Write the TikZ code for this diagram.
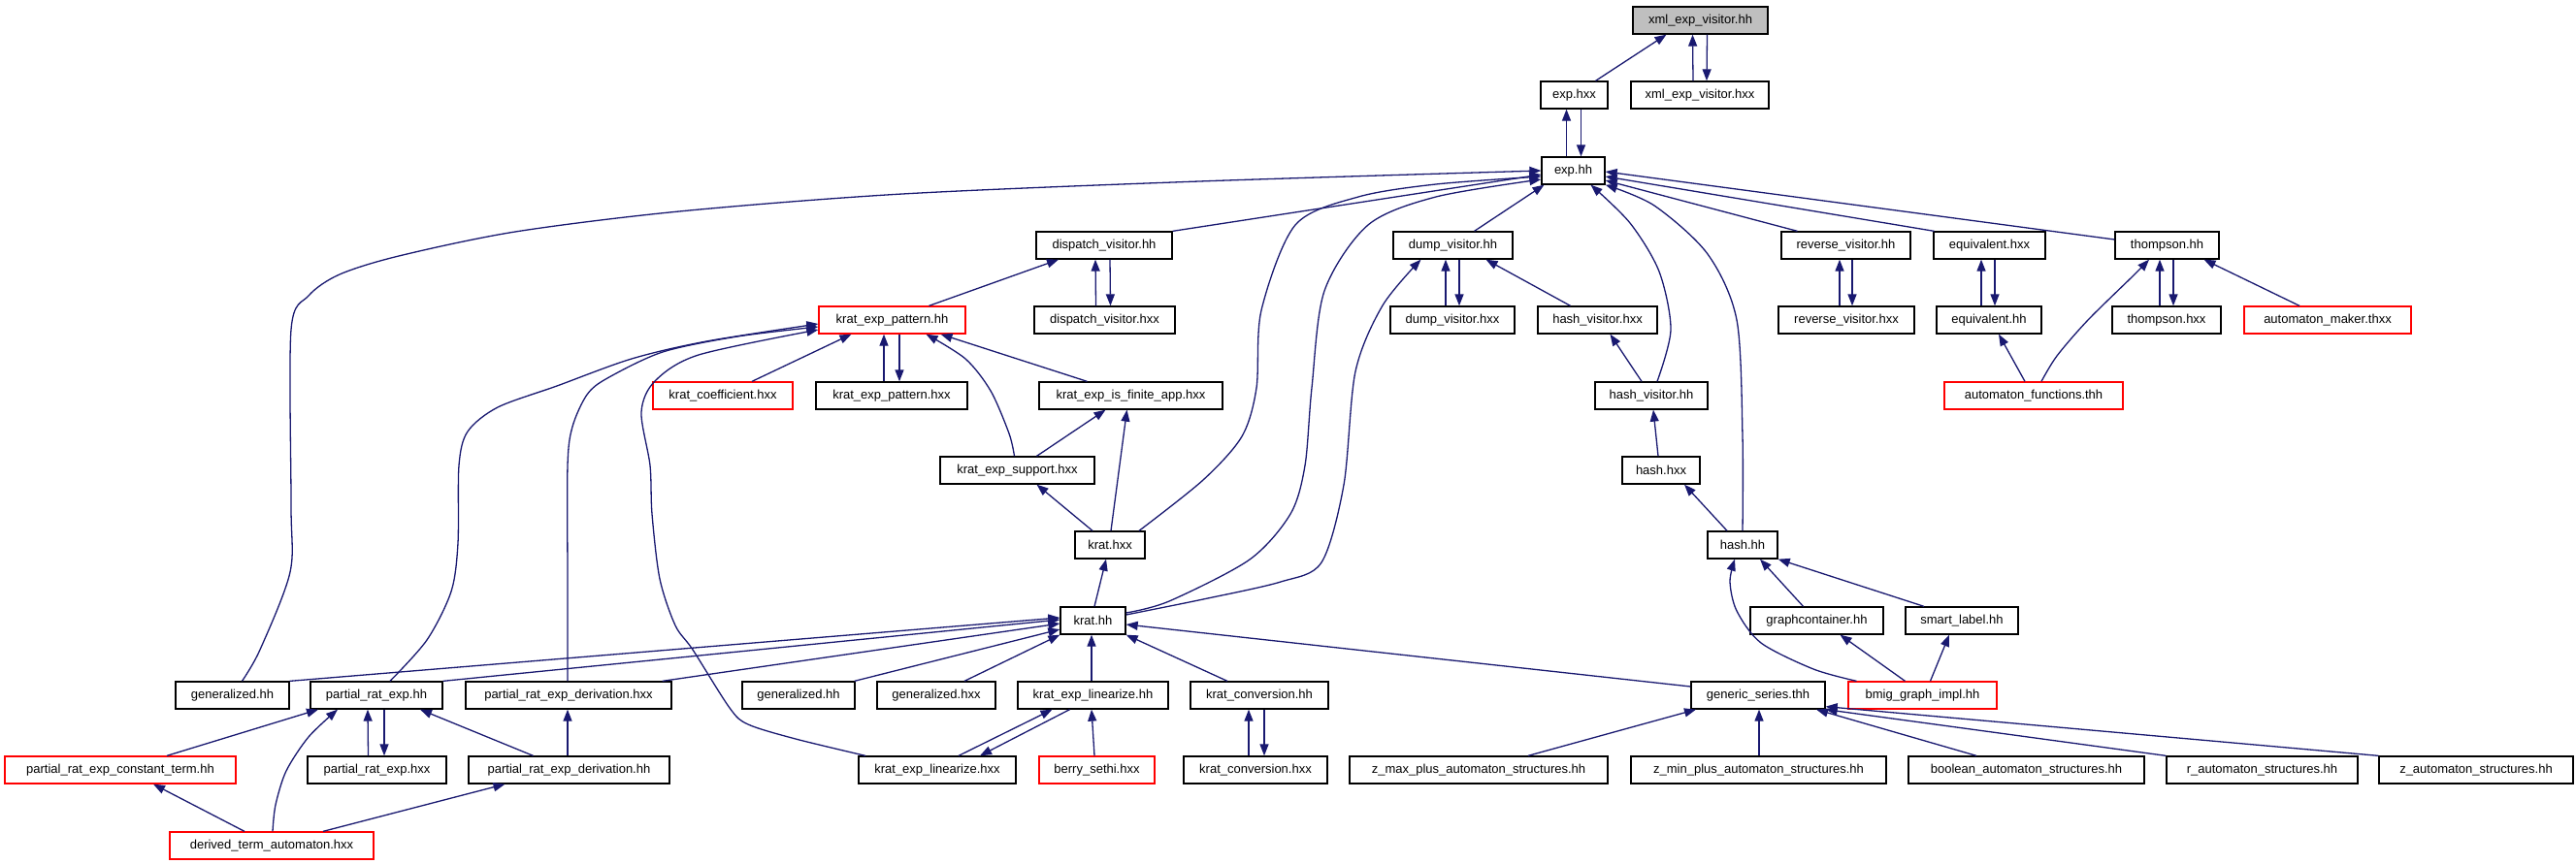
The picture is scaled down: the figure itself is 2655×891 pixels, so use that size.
\documentclass[tikz,border=0pt]{standalone}
\usepackage{fontspec}
\setmainfont{Liberation Sans}
\usepackage{tikz}
\usetikzlibrary{arrows.meta}
\definecolor{edgeblue}{RGB}{25,25,112}
\definecolor{nodegray}{RGB}{191,191,191}
\tikzstyle{filebox}=[draw=black, line width=1.3pt, minimum height=28pt, inner sep=0pt, font=\fontsize{13}{15}\selectfont]
\tikzstyle{fileboxred}=[filebox, draw=red]
\tikzstyle{fileboxgray}=[filebox, fill=nodegray]
\tikzstyle{arrow}=[draw=edgeblue, line width=1.3pt, -{Triangle[length=12pt,width=9pt]}]

\begin{document}
\begin{tikzpicture}[x=1pt, y=-1pt]
		   \useasboundingbox (0,0) rectangle (2655,891);
		   \begin{scope}
			   \node (xmlhh) at (1752.5,21)[fileboxgray, minimum width=139pt] {xml\_exp\_visitor.hh};
			   \node (exphxx) at (1622.5,98)[filebox, minimum width=69pt] {exp.hxx};
			   \node (xmlhxx) at (1752,98)[filebox, minimum width=142pt] {xml\_exp\_visitor.hxx};
			   \node (exphh) at (1621.5,176)[filebox, minimum width=65pt] {exp.hh};
			   \node (dispatchhh) at (1138,253)[filebox, minimum width=140pt] {dispatch\_visitor.hh};
			   \node (dumphh) at (1497.5,253)[filebox, minimum width=123pt] {dump\_visitor.hh};
			   \node (reversehh) at (1902.5,253)[filebox, minimum width=133pt] {reverse\_visitor.hh};
			   \node (equivhxx) at (2050.5,253)[filebox, minimum width=115pt] {equivalent.hxx};
			   \node (thompsonhh) at (2233.5,253)[filebox, minimum width=107pt] {thompson.hh};
			   \node (kpatternhh) at (919.5,330)[fileboxred, minimum width=151pt] {krat\_exp\_pattern.hh};
			   \node (dispatchhxx) at (1138.5,330)[filebox, minimum width=145pt] {dispatch\_visitor.hxx};
			   \node (dumphxx) at (1497,330)[filebox, minimum width=128pt] {dump\_visitor.hxx};
			   \node (hvisitorhxx) at (1646.5,330)[filebox, minimum width=123pt] {hash\_visitor.hxx};
			   \node (reversehxx) at (1903,330)[filebox, minimum width=140pt] {reverse\_visitor.hxx};
			   \node (equivhh) at (2050,330)[filebox, minimum width=108pt] {equivalent.hh};
			   \node (thompsonhxx) at (2233,330)[filebox, minimum width=112pt] {thompson.hxx};
			   \node (makerthxx) at (2399,330)[fileboxred, minimum width=172pt] {automaton\_maker.thxx};
			   \node (kcoeffhxx) at (745,408)[fileboxred, minimum width=144pt] {krat\_coefficient.hxx};
			   \node (kpatternhxx) at (919,408)[filebox, minimum width=156pt] {krat\_exp\_pattern.hxx};
			   \node (kfinitehxx) at (1165.5,408)[filebox, minimum width=189pt] {krat\_exp\_is\_finite\_app.hxx};
			   \node (hvisitorhh) at (1702,408)[filebox, minimum width=116pt] {hash\_visitor.hh};
			   \node (functionsthh) at (2096,408)[fileboxred, minimum width=184pt] {automaton\_functions.thh};
			   \node (ksupporthxx) at (1048.5,485)[filebox, minimum width=159pt] {krat\_exp\_support.hxx};
			   \node (hashhxx) at (1712,485)[filebox, minimum width=80pt] {hash.hxx};
			   \node (krathxx) at (1144,562)[filebox, minimum width=72pt] {krat.hxx};
			   \node (hashhh) at (1796,562)[filebox, minimum width=72pt] {hash.hh};
			   \node (krathh) at (1126.5,640)[filebox, minimum width=67pt] {krat.hh};
			   \node (graphhh) at (1872.5,640)[filebox, minimum width=137pt] {graphcontainer.hh};
			   \node (smarthh) at (2022,640)[filebox, minimum width=116pt] {smart\_label.hh};
			   \node (generalhhA) at (239.5,717)[filebox, minimum width=117pt] {generalized.hh};
			   \node (prehh) at (388,717)[filebox, minimum width=136pt] {partial\_rat\_exp.hh};
			   \node (prederivhxx) at (586,717)[filebox, minimum width=212pt] {partial\_rat\_exp\_derivation.hxx};
			   \node (generalhhB) at (823,717)[filebox, minimum width=116pt] {generalized.hh};
			   \node (generalhxx) at (965,717)[filebox, minimum width=122pt] {generalized.hxx};
			   \node (klinearhh) at (1126.5,717)[filebox, minimum width=155pt] {krat\_exp\_linearize.hh};
			   \node (kconvhh) at (1298,717)[filebox, minimum width=142pt] {krat\_conversion.hh};
			   \node (seriesthh) at (1812,717)[filebox, minimum width=138pt] {generic\_series.thh};
			   \node (bmighh) at (1981.5,717)[fileboxred, minimum width=153pt] {bmig\_graph\_impl.hh};
			   \node (preconsthh) at (124,794)[fileboxred, minimum width=238pt] {partial\_rat\_exp\_constant\_term.hh};
			   \node (prehxx) at (388.5,794)[filebox, minimum width=143pt] {partial\_rat\_exp.hxx};
			   \node (prederivhh) at (586.5,794)[filebox, minimum width=207pt] {partial\_rat\_exp\_derivation.hh};
			   \node (klinearhxx) at (966,794)[filebox, minimum width=162pt] {krat\_exp\_linearize.hxx};
			   \node (berryhxx) at (1130.5,794)[fileboxred, minimum width=119pt] {berry\_sethi.hxx};
			   \node (kconvhxx) at (1294,794)[filebox, minimum width=148pt] {krat\_conversion.hxx};
			   \node (zmaxhh) at (1524,794)[filebox, minimum width=266pt] {z\_max\_plus\_automaton\_structures.hh};
			   \node (zminhh) at (1812.5,794)[filebox, minimum width=263pt] {z\_min\_plus\_automaton\_structures.hh};
			   \node (boolhh) at (2088.5,794)[filebox, minimum width=243pt] {boolean\_automaton\_structures.hh};
			   \node (rautohh) at (2331.5,794)[filebox, minimum width=197pt] {r\_automaton\_structures.hh};
			   \node (zautohh) at (2552,794)[filebox, minimum width=200pt] {z\_automaton\_structures.hh};
			   \node (derivedhxx) at (280,872)[fileboxred, minimum width=210pt] {derived\_term\_automaton.hxx};
		   \end{scope}
		   \begin{scope}
			   \path ([xshift=22pt]exphxx.north) edge [arrow] ([xshift=-35pt]xmlhh.south);
			   \path ([xshift=-7pt]xmlhxx.north) edge [arrow] ([xshift=-8pt]xmlhh.south);
			   \path ([xshift=7pt]xmlhh.south) edge [arrow] ([xshift=7pt]xmlhxx.north);
			   \path ([xshift=-7pt]exphh.north) edge [arrow] ([xshift=-8pt]exphxx.south);
			   \path ([xshift=7pt]exphxx.south) edge [arrow] ([xshift=8pt]exphh.north);
			   \path [arrow] plot [smooth] coordinates {([xshift=10pt]generalhhA.north) (268,670) (299,590) (300,520) (300,340) (318,305) (350,283) (411,264) (531,239) (700,218) (930,200) (1236,187) (exphh.west)};
			   \path (dispatchhh.north east) edge [arrow] ([yshift=-4pt]exphh.west);
			   \path ([xshift=22pt]dumphh.north) edge [arrow] ([xshift=-30pt]exphh.south);
			   \path ([xshift=-50pt]reversehh.north) edge [arrow] ([yshift=-10pt]exphh.east);
			   \path ([xshift=-57pt]equivhxx.north) edge [arrow] ([yshift=-6pt]exphh.east);
			   \path ([yshift=6pt]thompsonhh.west) edge [arrow] ([yshift=-1pt]exphh.east);
			   \path [arrow] plot [smooth] coordinates {([xshift=30pt]krathxx.north) (1240,495) (1280,450) (1295,400) (1300,320) (1335,232) (1400,203) (1480,190) ([yshift=-6pt]exphh.west)};
			   \path [arrow] plot [smooth] coordinates {([yshift=8pt]krathh.east) (1205,620) (1288,577) (1330,530) (1345,480) (1352,400) (1365,300) (1410,232) (1480,203) ([yshift=-9pt]exphh.west)};
			   \path [arrow] plot [smooth] coordinates {([yshift=6pt]krathh.east) (1240,618) (1320,600) (1362,580) (1385,500) (1397,383) (1425,315) ([xshift=-33pt]dumphh.south)};
			   \path [arrow] plot [smooth] coordinates {([xshift=6pt]hvisitorhh.north) (1722,340) (1710,280) (1680,230) ([xshift=18pt]exphh.south)};
			   \path [arrow] plot [smooth] coordinates {(hashhh.north) (1796,450) (1790,330) (1760,262) (1705,212) (exphh.south east)};
			   \path [arrow] plot [smooth] coordinates {([xshift=14pt]prehh.north) (440,660) (465,610) (472,560) (473,480) (482,445) (513,420) (574,398) (651,370) (728,352) ([yshift=-4pt]kpatternhh.west)};
			   \path [arrow] plot [smooth] coordinates {([xshift=-1pt]prederivhxx.north) (585,600) (585,480) (590,440) (605,407) (626,390) (683,363) (760,347) ([yshift=-7pt]kpatternhh.west)};
			   \path [arrow] plot [smooth] coordinates {([xshift=-74pt]klinearhxx.north) (820,762) (771,747) (752,730) (714,670) (696,645) (680,597) (672,530) (670,480) (661,425) (675,393) (720,366) ([yshift=-10pt]kpatternhh.west)};
			   \path ([xshift=38pt]kpatternhh.north) edge [arrow] ([xshift=-47pt]dispatchhh.south);
			   \path ([xshift=-9pt]dispatchhxx.north) edge [arrow] ([xshift=-9pt]dispatchhh.south);
			   \path ([xshift=6pt]dispatchhh.south) edge [arrow] ([xshift=6pt]dispatchhxx.north);
			   \path ([xshift=30pt]kcoeffhxx.north) edge [arrow] ([xshift=-42pt]kpatternhh.south);
			   \path ([xshift=-8pt]kpatternhxx.north) edge [arrow] ([xshift=-8.5pt]kpatternhh.south);
			   \path ([xshift=7.5pt]kpatternhh.south) edge [arrow] ([xshift=8pt]kpatternhxx.north);
			   \path [arrow] plot [smooth] coordinates {([xshift=-3pt]ksupporthxx.north) (1040,447) (1021,403) (995,370) ([xshift=35pt]kpatternhh.south)};
			   \path ([xshift=-45pt]kfinitehxx.north) edge [arrow] ([xshift=50pt]kpatternhh.south);
			   \path ([xshift=20pt]ksupporthxx.north) edge [arrow] ([xshift=-26pt]kfinitehxx.south);
			   \path ([xshift=1pt]krathxx.north) edge [arrow] ([xshift=-4pt]kfinitehxx.south);
			   \path ([xshift=-18pt]krathxx.north) edge [arrow] ([xshift=20pt]ksupporthxx.south);
			   \path ([xshift=1.5pt]krathh.north) edge [arrow] ([xshift=-4pt]krathxx.south);
			   \path ([xshift=-7pt]dumphxx.north) edge [arrow] ([xshift=-7.5pt]dumphh.south);
			   \path ([xshift=6.5pt]dumphh.south) edge [arrow] ([xshift=7pt]dumphxx.north);
			   \path ([xshift=-28pt]hvisitorhxx.north) edge [arrow] ([xshift=34pt]dumphh.south);
			   \path ([xshift=-10pt]hvisitorhh.north) edge [arrow] ([xshift=13pt]hvisitorhxx.south);
			   \path ([xshift=-3pt]hashhxx.north) edge [arrow] ([xshift=2pt]hvisitorhh.south);
			   \path ([xshift=-16pt]hashhh.north) edge [arrow] ([xshift=24pt]hashhxx.south);
			   \path ([xshift=-14pt]graphhh.north) edge [arrow] ([xshift=18pt]hashhh.south);
			   \path ([xshift=-39pt]smarthh.north) edge [arrow] (hashhh.south east);
			   \path [arrow] plot [smooth] coordinates {([xshift=-68pt]bmighh.north) (1869,690) (1815,663) (1790,630) (1783,600) ([xshift=-8pt]hashhh.south)};
			   \path ([xshift=-18pt]bmighh.north) edge [arrow] ([xshift=24pt]graphhh.south);
			   \path ([xshift=8pt]bmighh.north) edge [arrow] ([xshift=-13pt]smarthh.south);
			   \path ([xshift=-7pt]reversehxx.north) edge [arrow] ([xshift=-6.5pt]reversehh.south);
			   \path ([xshift=6.5pt]reversehh.south) edge [arrow] ([xshift=6pt]reversehxx.north);
			   \path ([xshift=-8pt]equivhh.north) edge [arrow] ([xshift=-8.5pt]equivhxx.south);
			   \path ([xshift=5.5pt]equivhxx.south) edge [arrow] ([xshift=6pt]equivhh.north);
			   \path ([xshift=-9pt]functionsthh.north) edge [arrow] ([xshift=10pt]equivhh.south);
			   \path [arrow] plot [smooth] coordinates {([xshift=8pt]functionsthh.north) (2120,367) (2152,330) (2200,283) ([xshift=-18.5pt]thompsonhh.south)};
			   \path ([xshift=-7pt]thompsonhxx.north) edge [arrow] ([xshift=-7.5pt]thompsonhh.south);
			   \path ([xshift=6.5pt]thompsonhh.south) edge [arrow] ([xshift=7pt]thompsonhxx.north);
			   \path ([xshift=-29pt]makerthxx.north) edge [arrow] ([xshift=38pt]thompsonhh.south);
			   \path (generalhhA.north east) edge [arrow] ([yshift=3pt]krathh.west);
			   \path (prehh.north east) edge [arrow] ([yshift=1pt]krathh.west);
			   \path ([xshift=-10pt]prederivhxx.north east) edge [arrow] ([yshift=-3pt]krathh.west);
			   \path ([xshift=-1pt]generalhhB.north east) edge [arrow] ([yshift=-9pt]krathh.west);
			   \path ([xshift=29pt]generalhxx.north) edge [arrow] (krathh.south west);
			   \path ([xshift=-1.5pt]klinearhh.north) edge [arrow] ([xshift=-1.5pt]krathh.south);
			   \path ([xshift=-33pt]kconvhh.north) edge [arrow] (krathh.south east);
			   \path ([yshift=9pt]seriesthh.west) edge [arrow] ([yshift=-4pt]krathh.east);
			   \path ([xshift=48pt]preconsthh.north) edge [arrow] ([xshift=-60pt]prehh.south);
			   \path [arrow] plot [smooth] coordinates {([xshift=1pt]derivedhxx.north) (284,830) (295,795) (318,760) ([xshift=-40pt]prehh.south)};
			   \path ([xshift=-9pt]prehxx.north) edge [arrow] ([xshift=-9pt]prehh.south);
			   \path ([xshift=8pt]prehh.south) edge [arrow] ([xshift=7.5pt]prehxx.north);
			   \path ([xshift=-37pt]prederivhh.north) edge [arrow] ([xshift=45pt]prehh.south);
			   \path ([xshift=-1.5pt]prederivhh.north) edge [arrow] ([xshift=-1pt]prederivhxx.south);
			   \path ([xshift=-28pt]derivedhxx.north) edge [arrow] ([xshift=34pt]preconsthh.south);
			   \path ([xshift=53pt]derivedhxx.north) edge [arrow] ([xshift=-66pt]prederivhh.south);
			   \path ([xshift=22pt]klinearhxx.north) edge [arrow] ([xshift=-42pt]klinearhh.south);
			   \path ([xshift=-24pt]klinearhh.south) edge [arrow] ([xshift=44pt]klinearhxx.north);
			   \path ([xshift=-2.5pt]berryhxx.north) edge [arrow] ([xshift=-1.5pt]klinearhh.south);
			   \path ([xshift=-7pt]kconvhxx.north) edge [arrow] ([xshift=-11pt]kconvhh.south);
			   \path ([xshift=5pt]kconvhh.south) edge [arrow] ([xshift=9pt]kconvhxx.north);
			   \path ([xshift=51pt]zmaxhh.north) edge [arrow] ([xshift=-64pt]seriesthh.south);
			   \path ([xshift=0.5pt]zminhh.north) edge [arrow] ([xshift=1pt]seriesthh.south);
			   \path ([xshift=-51.5pt]boolhh.north) edge [arrow] ([xshift=60pt]seriesthh.south);
			   \path (rautohh.north west) edge [arrow] (seriesthh.south east);
			   \path (zautohh.north west) edge [arrow] ([yshift=3pt]seriesthh.south east);
		   \end{scope}
	   \end{tikzpicture}
\end{document}
